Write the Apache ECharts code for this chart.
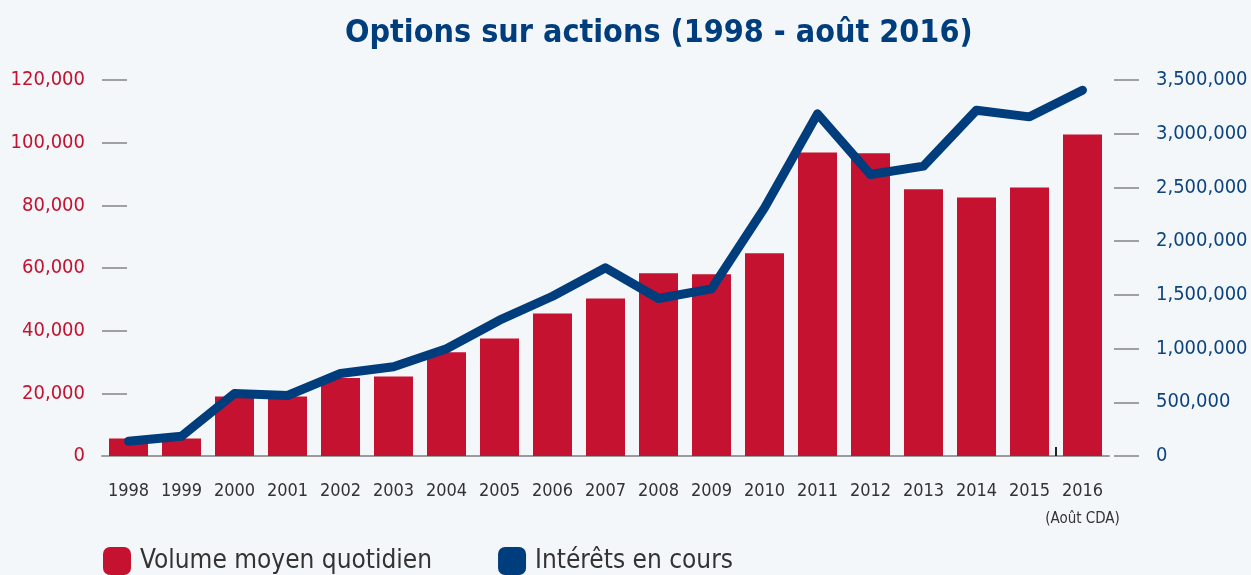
<!DOCTYPE html>
<html>
<head>
<meta charset="utf-8">
<script src="https://cdn.jsdelivr.net/npm/echarts@6/dist/echarts.min.js"></script>
<style>
	html, body { margin: 0; padding: 0; background: #f4f7f9; }
	#chart { width: 1251px; height: 575px; }
</style>
</head>
<body>
<div id="chart"></div>
<script>
var years = ['1998', '1999', '2000', '2001', '2002', '2003', '2004', '2005', '2006', '2007',
	'2008', '2009', '2010', '2011', '2012', '2013', '2014', '2015', '2016'];
var lastYearNote = '(Août CDA)';
// volume moyen quotidien (axe de gauche)
var volume = [5600, 5600, 19000, 19000, 24900, 25400, 33100, 37500, 45500, 50300,
	58300, 58000, 64700, 96900, 96600, 85100, 82500, 85700, 102600];
// intérêts en cours (axe de droite)
var interets = [138000, 184000, 582000, 563000, 768000, 830000, 998000, 1264000, 1487000, 1752000,
	1466000, 1556000, 2310000, 3185000, 2620000, 2698000, 3219000, 3157000, 3405000];
var leftTicks = [0, 120000, 20000];
var rightTicks = [0, 3500000, 500000];

var FONT = '"DejaVu Sans Condensed", "DejaVu Sans", sans-serif';
var RED = '#c41230';
var BLUE = '#003d7c';

function fmt(v) {
	return v.toLocaleString('en-US');
}

var myChart = echarts.init(document.getElementById('chart'));
var option = {
	backgroundColor: '#f4f7f9',
	title: {
		text: 'Options sur actions (1998 - août 2016)',
		left: 340,
		top: 13,
		textStyle: {
			color: BLUE,
			fontFamily: FONT,
			fontWeight: 'bold',
			fontSize: 32
		}
	},
	legend: {
		left: 103,
		top: 547,
		padding: 0,
		itemWidth: 28,
		itemHeight: 28,
		itemGap: 66,
		icon: 'roundRect',
		textStyle: {
			color: '#333',
			fontFamily: FONT,
			fontSize: 26,
			padding: [0, 0, 0, 4]
		},
		data: ['Volume moyen quotidien', 'Intérêts en cours']
	},
	grid: {
		left: 102,
		right: 142,
		top: 80,
		bottom: 119,
		containLabel: false,
		outerBoundsMode: 'none'
	},
	xAxis: [{
		type: 'category',
		data: years,
		axisLine: {
			lineStyle: { color: '#9a9a9a', width: 2 }
		},
		axisTick: { show: false },
		axisLabel: {
			margin: 26,
			color: '#333',
			fontFamily: FONT,
			fontSize: 18,
			interval: 0,
			formatter: function(v, i) {
				return i === years.length - 1 ? v + '\n{n|' + lastYearNote + '}' : v;
			},
			rich: {
				n: { fontSize: 15, color: '#333', fontFamily: FONT, lineHeight: 26, padding: [12, 0, 0, 0] }
			}
		}
	}, {
		// petit repère avant la dernière année (année partielle)
		type: 'value',
		position: 'bottom',
		min: 0,
		max: years.length,
		axisLine: { show: false },
		axisLabel: { show: false },
		splitLine: { show: false },
		axisTick: {
			show: true,
			inside: true,
			length: 9,
			customValues: [years.length - 1],
			lineStyle: { color: '#222', width: 2 }
		}
	}],
	yAxis: [{
		type: 'value',
		min: leftTicks[0],
		max: leftTicks[1],
		interval: leftTicks[2],
		splitLine: { show: false },
		axisLine: { show: false },
		axisTick: {
			show: true,
			inside: true,
			length: 25,
			lineStyle: { color: '#a0a0a0', width: 2 }
		},
		axisLabel: {
			margin: 17,
			color: RED,
			fontFamily: FONT,
			fontSize: 20,
			formatter: fmt
		}
	}, {
		type: 'value',
		position: 'right',
		offset: 5,
		min: rightTicks[0],
		max: rightTicks[1],
		interval: rightTicks[2],
		splitLine: { show: false },
		axisLine: { show: false },
		axisTick: {
			show: true,
			length: 25,
			lineStyle: { color: '#a0a0a0', width: 2 }
		},
		axisLabel: {
			margin: 42,
			color: '#0d4480',
			fontFamily: FONT,
			fontSize: 20,
			formatter: fmt
		}
	}],
	series: [{
		name: 'Volume moyen quotidien',
		type: 'bar',
		yAxisIndex: 0,
		barWidth: 39,
		itemStyle: { color: RED },
		data: volume
	}, {
		name: 'Intérêts en cours',
		type: 'line',
		yAxisIndex: 1,
		symbol: 'none',
		z: 5,
		itemStyle: { color: BLUE },
		lineStyle: { color: BLUE, width: 9, cap: 'round', join: 'round' },
		data: interets
	}]
};
myChart.setOption(option);
</script>
</body>
</html>
